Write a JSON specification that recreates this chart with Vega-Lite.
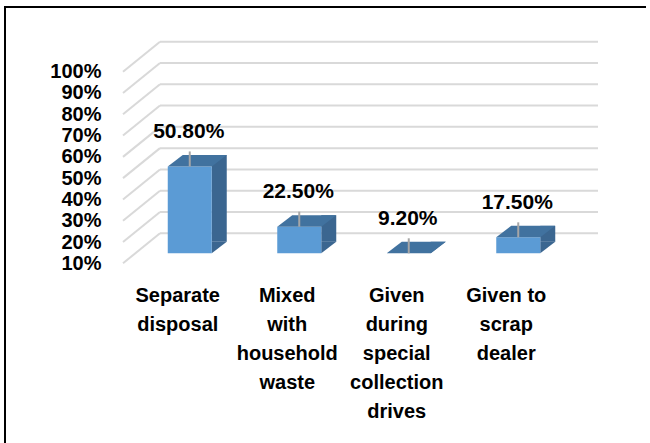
{
  "$schema": "https://vega.github.io/schema/vega-lite/v6.json",
  "width": 645,
  "height": 436,
  "autosize": {"type": "none"},
  "padding": {"left": 5, "top": 7, "right": 0, "bottom": 0},
  "background": "white",
  "config": {
    "view": {"stroke": "black", "strokeWidth": 2, "strokeDash": [641, 1085, 436]},
    "font": "Liberation Sans"
  },
  "datasets": {
    "bars": [
      {"category": "Separate disposal", "share": 0.508},
      {"category": "Mixed with household waste", "share": 0.225},
      {"category": "Given during special collection drives", "share": 0.092},
      {"category": "Given to scrap dealer", "share": 0.175}
    ],
    "grid": [
      {"tick": 0.1}, {"tick": 0.2}, {"tick": 0.3}, {"tick": 0.4}, {"tick": 0.5},
      {"tick": 0.6}, {"tick": 0.7}, {"tick": 0.8}, {"tick": 0.9}, {"tick": 1.0}
    ]
  },
  "layer": [
    {
      "data": {"name": "grid"},
      "mark": {"type": "rule", "color": "#D9D9D9", "strokeWidth": 2, "xOffset": 37, "x2Offset": 37, "yOffset": -20},
      "encoding": {
        "x": {
          "datum": "Separate disposal", "bandPosition": 0, "type": "nominal", "title": null,
          "scale": {
            "domain": ["Separate disposal", "Mixed with household waste", "Given during special collection drives", "Given to scrap dealer"],
            "range": [118, 556], "paddingInner": 0, "paddingOuter": 0
          },
          "axis": {
            "title": null, "domain": false, "ticks": false, "tickSize": 0, "labelPadding": 0, "grid": false,
            "offset": -158, "labelAngle": 0, "labelBaseline": "top",
            "labelFont": "Liberation Sans", "labelFontWeight": "bold", "labelFontSize": 20,
            "labelColor": "#000000", "labelLineHeight": 29, "labelLimit": 0,
            "labelExpr": "datum.value == 'Given to scrap dealer' ? ['Given to', 'scrap', 'dealer'] : split(datum.value, ' ')"
          }
        },
        "x2": {"datum": "Given to scrap dealer", "bandPosition": 1},
        "y": {
          "field": "tick", "type": "quantitative", "title": null,
          "scale": {"domain": [0.1, 1], "range": [246.3, 54.7], "clamp": true, "nice": false, "zero": false},
          "axis": {
            "title": null, "domain": false, "ticks": false, "tickSize": 0, "grid": false,
            "labelPadding": 0, "offset": -96, "labelOffset": 10,
            "values": [0.1, 0.2, 0.3, 0.4, 0.5, 0.6, 0.7, 0.8, 0.9, 1.0],
            "format": ".0%", "labelOverlap": false, "labelFlush": false, "labelBound": false,
            "labelFont": "Liberation Sans", "labelFontWeight": "bold", "labelFontSize": 20,
            "labelColor": "#000000"
          }
        }
      }
    },
    {
      "data": {"name": "grid"},
      "mark": {"type": "rule", "color": "#D9D9D9", "strokeWidth": 2, "yOffset": 10, "x2Offset": 37, "y2Offset": -20},
      "encoding": {
        "x": {"datum": "Separate disposal", "bandPosition": 0, "type": "nominal", "title": null},
        "x2": {"datum": "Separate disposal", "bandPosition": 0},
        "y": {"field": "tick", "type": "quantitative", "title": null},
        "y2": {"field": "tick"}
      }
    },
    {
      "data": {"name": "bars"},
      "mark": {"type": "bar", "width": 15, "xOffset": 41.5, "yOffset": -11.5, "y2Offset": -11.5, "color": "#3B6690"},
      "encoding": {
        "x": {"field": "category", "type": "nominal", "title": null},
        "y": {"field": "share", "type": "quantitative", "title": null},
        "y2": {"datum": 0.1}
      }
    },
    {
      "data": {"name": "bars"},
      "mark": {"type": "point", "shape": "M34,-11.5L34,0L49,-11.5Z", "size": 4, "filled": true, "opacity": 1, "strokeWidth": 0, "color": "#3B6690"},
      "encoding": {
        "x": {"field": "category", "type": "nominal", "title": null},
        "y": {"datum": 0.1, "type": "quantitative"}
      }
    },
    {
      "data": {"name": "bars"},
      "mark": {"type": "bar", "width": 44, "xOffset": 12, "color": "#5B9BD5"},
      "encoding": {
        "x": {"field": "category", "type": "nominal", "title": null},
        "y": {"field": "share", "type": "quantitative", "title": null},
        "y2": {"datum": 0.1}
      }
    },
    {
      "data": {"name": "bars"},
      "mark": {"type": "point", "shape": "M-10,0L34,0L49,-11.5L5,-11.5Z", "size": 4, "filled": true, "opacity": 1, "strokeWidth": 0, "color": "#41729F"},
      "encoding": {
        "x": {"field": "category", "type": "nominal", "title": null},
        "y": {"field": "share", "type": "quantitative", "title": null}
      }
    },
    {
      "data": {"name": "bars"},
      "mark": {"type": "rule", "color": "#A6A6A6", "strokeWidth": 2, "xOffset": 12, "y2Offset": -15},
      "encoding": {
        "x": {"field": "category", "type": "nominal", "title": null},
        "y": {"field": "share", "type": "quantitative", "title": null},
        "y2": {"field": "share"}
      }
    },
    {
      "data": {"name": "bars"},
      "mark": {"type": "text", "dx": 11, "dy": -34.5, "baseline": "middle", "align": "center", "font": "Liberation Sans", "fontWeight": "bold", "fontSize": 21, "color": "#000000"},
      "encoding": {
        "x": {"field": "category", "type": "nominal", "title": null},
        "y": {"field": "share", "type": "quantitative", "title": null},
        "text": {"field": "share", "type": "quantitative", "format": ".2%"}
      }
    }
  ]
}
